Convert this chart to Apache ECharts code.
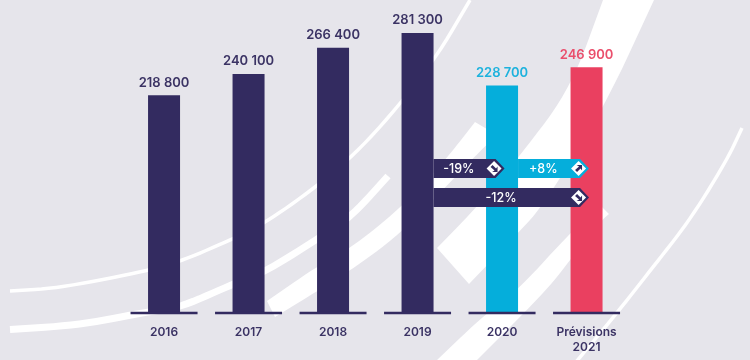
<!DOCTYPE html>
<html>
<head>
<meta charset="utf-8">
<title>Chart</title>
<script src="https://cdn.jsdelivr.net/npm/echarts@6/dist/echarts.min.js"></script>
<style>
html,body{margin:0;padding:0;background:#e6e5eb;}
#main{width:750px;height:360px;}
</style>
</head>
<body>
<div id="main"></div>
<script>
// data
var categories=['2016','2017','2018','2019','2020','Prévisions\n2021'];
var values=[218800,240100,266400,281300,228700,246900];
var barColors=['#332b60','#332b60','#332b60','#332b60','#05aedb','#ea4060'];
var deltaLabels=['-19%','+8%','-12%'];
var deltaFrom=[3,4,3];
var deltaTo=[4,5,5];
var deltaRows=[0,0,1];
var deltaColors=['#332b60','#05aedb','#332b60'];

var navy='#332b60';
var fontName='Inter, "Noto Sans", sans-serif';
var barW=32;
var rowTop=[159,188];
var rowH=19;

// 把折线点圆滑一下,两端保持不动
function edge(p){
	var out=[p[0]];
	var prev=[(p[0][0]+p[1][0])/2,(p[0][1]+p[1][1])/2];
	out.push(prev);
	for(var i=1;i<p.length-1;i++){
		var next=[(p[i][0]+p[i+1][0])/2,(p[i][1]+p[i+1][1])/2];
		for(var t=0.125;t<=1;t+=0.125){
			var a=(1-t)*(1-t),b=2*t*(1-t),c=t*t;
			out.push([a*prev[0]+b*p[i][0]+c*next[0],a*prev[1]+b*p[i][1]+c*next[1]]);
		}
		prev=next;
	}
	out.push(p[p.length-1]);
	return out;
}
function line(p,w){
	return {type:'polyline',z:-1,silent:true,shape:{points:edge(p)},
		style:{fill:null,stroke:'#fff',lineWidth:w,lineCap:'butt'}};
}
function band(up,low){
	return {type:'polygon',z:-1,silent:true,shape:{points:edge(up).concat(edge(low))},
		style:{fill:'#fff',stroke:null}};
}

//----------------背景白色弧线----------------
var swooshes=[
	line([[10,291],[60,288],[146,271],[179,262],[233,239],[265,223],[319,185],[370,140],[433,63],[470,0]],3.5),
	line([[10,329.5],[80,325],[146,312],[179,308],[233,284],[265,272],[319,238],[351,217],[388,176]],7),
	band([[267,301],[319,265],[351,248],[402,207],[447,158],[475,122]],
		[[497,135],[473,158],[402,233],[351,270],[319,290],[275,317]]),
	band([[437,248],[477,207],[518,158],[570,90],[603,0]],
		[[654,0],[603,110],[542,207],[518,233],[469,284]]),
	band([[600,205],[570,233],[518,290],[483,316],[437,360]],
		[[477,360],[547,290],[570,260],[602,220],[609,214]]),
	line([[742,128],[727,160],[690,220],[653,267],[617,313],[576,362]],3.5)
];

function renderBase(params,api){
	var p=api.coord([api.value(0),0]);
	return {type:'rect',shape:{x:p[0]-33.5,y:p[1]-1.3,width:67,height:2.6},style:{fill:navy}};
}

function renderDelta(params,api){
	var i=params.dataIndex;
	var x0=api.coord([deltaFrom[i],0])[0];
	var x1=api.coord([deltaTo[i],0])[0];
	var start=x0+barW/2,tip=x1+2.5,top=rowTop[deltaRows[i]],mid=top+rowH/2,bottom=top+rowH;
	var ic=x1-8;
	var up=deltaLabels[i].charAt(0)=='+';
	var arrow=up?
		[[ic-3.5,mid+1.5],[ic+0.5,mid-2],[ic-2,mid-3.5],[ic+3.5,mid-3.5],[ic+3.5,mid+2],[ic+2,mid],[ic-1.5,mid+3.5]]:
		[[ic-3.5,mid-1.5],[ic+0.5,mid+2],[ic-2,mid+3.5],[ic+3.5,mid+3.5],[ic+3.5,mid-2],[ic+2,mid],[ic-1.5,mid-3.5]];
	return {type:'group',children:[
		{type:'polygon',shape:{points:[[start,top],[tip-9,top],[tip,mid],[tip-9,bottom],[start,bottom]]},style:{fill:deltaColors[i]}},
		{type:'polygon',shape:{points:[[ic-7.5,mid],[ic,mid-7.5],[ic+7.5,mid],[ic,mid+7.5]]},style:{fill:'#fff'}},
		{type:'polygon',shape:{points:arrow},style:{fill:navy}},
		{type:'text',x:(start+x1-barW/2)/2-1,y:mid+0.5,style:{text:deltaLabels[i],fill:'#fff',font:'500 12.5px '+fontName,textAlign:'center',textVerticalAlign:'middle'}}
	]};
}

var barData=[];
for(var i=0;i<values.length;i++){
	barData.push({
		value:values[i],
		itemStyle:{color:barColors[i]},
		label:{color:i<4?'#3b3364':(i==4?'#1db2dd':'#ea4f6c')}
	});
}

var myChart=echarts.init(document.getElementById('main'),null,{renderer:'canvas'});
myChart.setOption({
	animation:false,
	backgroundColor:'#e6e5eb',
	graphic:{elements:swooshes},
	grid:{left:121.8,right:121.2,top:0,bottom:47},
	xAxis:{
		type:'category',
		data:categories,
		axisLine:{show:false},
		axisTick:{show:false},
		axisLabel:{color:'#3b3364',fontFamily:fontName,fontSize:12,fontWeight:600,lineHeight:15,margin:12,interval:0}
	},
	yAxis:{type:'value',min:0,max:314500,show:false,splitLine:{show:false}},
	series:[
		{
			type:'bar',
			data:barData,
			barWidth:barW,
			z:3,
			label:{
				show:true,
				position:'top',
				distance:6,
				fontFamily:fontName,
				fontSize:13,
				fontWeight:600,
				formatter:function(p){
					return String(p.value).replace(/(\d{3})$/,' $1');
				}
			}
		},
		{
			type:'custom',
			z:4,
			silent:true,
			data:categories.map(function(c,i){return [i];}),
			encode:{x:0},
			renderItem:renderBase
		},
		{
			type:'custom',
			z:5,
			silent:true,
			clip:false,
			data:deltaLabels.map(function(c,i){return [deltaFrom[i]];}),
			encode:{x:0},
			renderItem:renderDelta
		}
	]
});
</script>
</body>
</html>
